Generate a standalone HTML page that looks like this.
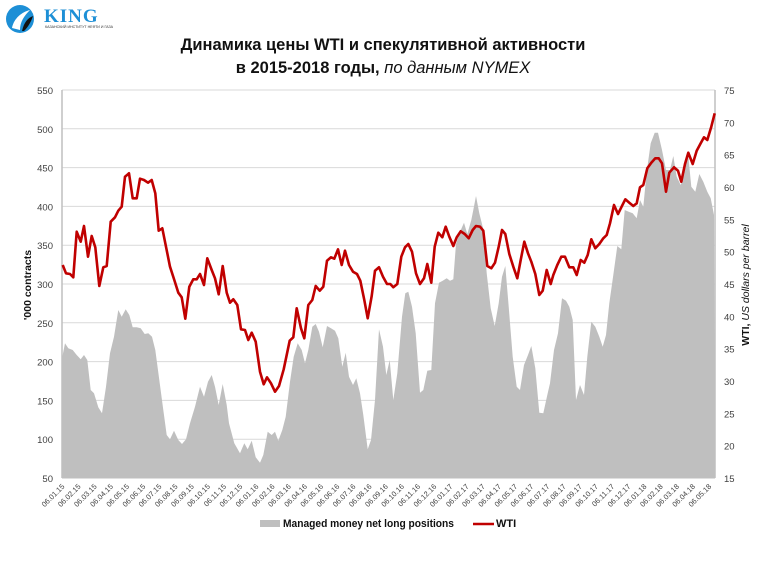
<!DOCTYPE html>
<html><head><meta charset="utf-8"><style>
html,body{margin:0;padding:0;background:#fff;}
svg{display:block;}
</style></head><body>
<svg width="766" height="575" viewBox="0 0 766 575" xmlns="http://www.w3.org/2000/svg" font-family="Liberation Sans, DejaVu Sans, sans-serif">
<!-- logo -->
<circle cx="20" cy="19" r="14" fill="#1d8fd6"/>
<path d="M12,28 C14,18 22,12 30,10 C24,16 20,22 20,30 Z" fill="#fff"/>
<path d="M22,31 C24,22 28,18 33,16 C31,22 28,27 24,31 Z" fill="#111"/>
<text x="44" y="22" font-size="19" font-weight="bold" fill="#1d8fd6" font-family="Liberation Serif, serif" letter-spacing="1">KING</text>
<text x="45" y="28" font-size="3.6" fill="#333">КАЗАНСКИЙ ИНСТИТУТ НЕФТИ И ГАЗА</text>
<!-- title -->
<text x="383" y="50" font-size="16.5" font-weight="bold" text-anchor="middle" fill="#111" font-family="Liberation Sans, Noto Sans CJK SC, sans-serif">Динамика цены WTI и спекулятивной активности</text>
<text x="383" y="73" font-size="16.5" text-anchor="middle" fill="#111" font-family="Liberation Sans, Noto Sans CJK SC, sans-serif"><tspan font-weight="bold">в 2015-2018 годы,</tspan> <tspan font-style="italic">по данным NYMEX</tspan></text>
<!-- gridlines -->
<g stroke="#d9d9d9" stroke-width="1">
<line x1="62" x2="715" y1="90" y2="90"/>
<line x1="62" x2="715" y1="128.8" y2="128.8"/>
<line x1="62" x2="715" y1="167.6" y2="167.6"/>
<line x1="62" x2="715" y1="206.4" y2="206.4"/>
<line x1="62" x2="715" y1="245.2" y2="245.2"/>
<line x1="62" x2="715" y1="284" y2="284"/>
<line x1="62" x2="715" y1="322.8" y2="322.8"/>
<line x1="62" x2="715" y1="361.6" y2="361.6"/>
<line x1="62" x2="715" y1="400.4" y2="400.4"/>
<line x1="62" x2="715" y1="439.2" y2="439.2"/>
</g>
<!-- area -->
<polygon fill="#bfbfbf" points="62,478 61.7,360 65,343.3 68.3,348.3 72.7,350 76.7,355 80.7,359.3 84,355 87.3,360 90.7,390 94,393.3 98.3,407.3 102,413.3 106,386.7 110,353.3 114,336.7 118.3,310 121.7,316.7 125.7,309.3 129.3,315 132.7,327.3 136.7,327.3 140.7,328.3 144.7,334 148.3,333.3 152,336.7 155.3,350 159.3,380 163.3,410 166.7,435 170,439.3 174,430.7 178.3,440 182,444 186,439.3 190,423.3 195,406.7 200,386.7 204,396.7 208,381.7 211.7,375 215,386.7 218.7,405 222.7,384 226.7,405 229,423.3 234.3,443.3 240,453.3 244.3,443.3 247.7,449.3 251.7,440.7 255.7,457.3 260,462.7 263.3,455 267.7,431.7 271.7,435 275,431.7 278.3,440.7 282.3,430 285.7,416.7 290,381.7 293.7,356.7 297.7,343.3 301.7,350 305,363.3 308.3,350 312.3,326.7 315.7,324 319,331.7 322.7,347.3 327,326 331,328.3 335,330.7 338.3,338.3 342.3,366.7 345.7,352.7 349,376.7 353,385 356.3,378.3 360,393.3 363.3,415 367.7,449.3 371,440 375,400 379,329.3 383,346.7 386.3,375 389.7,360 393.3,400 397.3,373.3 402,316.7 405.3,293.3 408.3,291.7 412,306.7 415.7,333.3 420,392.7 423.3,390 427.3,370.7 431.3,370 435,303.3 439,282.7 442.7,280.7 446.7,278.3 450,280.7 453.3,279.3 456,244 460,231.7 464,222.7 467.3,234 471.3,220 473.3,210 476,196 479.3,213.3 483.3,229.3 486.7,273.3 490.7,308.3 494.7,326 498.7,303.3 502,276.7 505.3,266 508.7,306.7 512.7,356.7 516.7,386.7 520,390 524,365 528,355 531.3,346 535.3,368.3 539.3,412.7 543.3,413.3 547.3,395 550,383.3 554,350 558,333.3 562,298.3 566,300.7 569.3,306.7 572.7,320 576,400 580,385 584,395 587.3,356.7 591.3,321.7 595.3,326.7 599.3,336.7 602.7,346.7 606,335 609.3,303.3 613.3,275 617.3,246 621.3,249.3 624.7,210 628.7,211.7 632.7,213.3 636.7,218.3 640,200 643.3,206.7 646.7,171.7 650.7,143.3 654.7,132.7 658,132.7 662,150 666,170 670,170 673.3,156 676.7,176.7 680.7,185 684,175 688,152.7 691.3,186.7 695.3,191.7 699.3,174 703.3,181.7 707.3,191.7 710.7,198.3 714,215 715,478"/>
<!-- axes -->
<line x1="62" x2="62" y1="90" y2="478" stroke="#bfbfbf" stroke-width="1.5"/>
<line x1="715" x2="715" y1="90" y2="478" stroke="#bfbfbf" stroke-width="1.5"/>
<line x1="62" x2="715" y1="478" y2="478" stroke="#bfbfbf" stroke-width="1"/>
<!-- WTI -->
<polyline fill="none" stroke="#c00000" stroke-width="2.6" stroke-linejoin="round" points="62.7,265 66,273.3 70,274 73.3,277.3 76.7,231.7 80.7,241.7 84,226 88,256.7 91.7,236 95.3,247.3 99.3,286 103.3,267.3 106.7,266 110.7,221.7 115,217.3 118.3,210.7 121.7,206.7 125,176.7 129,173.3 132.7,198.3 136.7,198.3 140,178.7 144,180 148,182.7 151.7,180 155.3,193.3 158.7,230.7 162.3,228.3 166,246.7 170,266.7 174.3,280 178.3,292.7 181.7,297.3 185.3,318.7 189.3,286.7 193.3,279.3 196.7,279.3 200,274 204,285 207.3,258.3 211.7,270 215,278.3 218.7,294.3 222.7,266 226.7,292.7 230,302.7 233.3,299.3 237.3,305 241,329.3 245,330 248.3,340 251.7,332.7 255.7,341.7 260,371.7 263.7,384.3 267,377.3 271,383.3 275,391.7 279,386 283.7,369.3 289.7,340.7 293.3,337.3 296.7,308.3 301,328.3 304.3,338.3 308.3,305 312.3,300 315.7,286 319.7,290.7 323.3,286.7 327,260.7 331,257.3 334.3,258.7 338,249.3 341.7,265 345,250.7 349,265 353,271.7 357,274 360.3,280.7 364.3,300 367.7,318.3 371.7,296 375,270.7 379,267.3 383,276.7 387,284 390.3,284 393.3,287.3 397.3,284 401.3,256.7 405,247.3 408.3,244 412,251.7 416,273.3 420,284 424,278.3 427.3,264 431.3,282.7 434.7,246.7 438.3,232.7 442.3,237.3 445.7,226.7 449.3,236.7 453.3,246 456.7,237.3 460.7,231.3 464.7,234 468.7,238.3 472.7,230 476,226 480,226.7 483.3,230.7 487.3,266 491.3,268.3 495,262.7 498.7,246.7 502,230 505.3,234 509.3,254 513.3,266.7 517.3,278.3 520.7,260 524.3,241.7 528,253.3 531.3,261.7 535.3,274 539.3,295 542.7,290.7 546.7,270 550.7,284 553.3,275 557.3,265 561.3,256.7 565,256.7 569.3,267.3 573.3,267.3 576.7,275 580.7,260 584.3,262.7 587.7,255 591.3,239.3 595.3,248.3 599.3,244 603.3,238.3 606.7,235 610,223.3 614,205 618,214 621.3,207.3 625.3,199.3 629.3,202.7 633.3,206 636.7,203.3 640,187.3 643.3,185 647.3,168.3 651.3,162.7 655.3,158.3 658.7,158.3 662,163.3 666,191.7 669.3,172.7 674,167.3 678,170.7 681.3,181.7 685,164 688.3,152.7 692.7,164 696.7,150.7 700.7,143.3 704,137.3 707.3,140 711.3,126.7 714.7,113.3"/>
<!-- left ticks -->
<g font-size="9.5" fill="#404040" text-anchor="end">
<text x="53" y="94">550</text>
<text x="53" y="132.8">500</text>
<text x="53" y="171.6">450</text>
<text x="53" y="210.4">400</text>
<text x="53" y="249.2">350</text>
<text x="53" y="288">300</text>
<text x="53" y="326.8">250</text>
<text x="53" y="365.6">200</text>
<text x="53" y="404.4">150</text>
<text x="53" y="443.2">100</text>
<text x="53" y="482">50</text>
</g>
<!-- right ticks -->
<g font-size="9.5" fill="#404040" text-anchor="start">
<text x="724" y="94">75</text>
<text x="724" y="126.3">70</text>
<text x="724" y="158.7">65</text>
<text x="724" y="191">60</text>
<text x="724" y="223.3">55</text>
<text x="724" y="255.7">50</text>
<text x="724" y="288">45</text>
<text x="724" y="320.3">40</text>
<text x="724" y="352.7">35</text>
<text x="724" y="385">30</text>
<text x="724" y="417.3">25</text>
<text x="724" y="449.7">20</text>
<text x="724" y="482">15</text>
</g>
<!-- axis titles -->
<text transform="translate(31,285) rotate(-90)" font-size="10.5" font-weight="bold" text-anchor="middle" fill="#111">'000 contracts</text>
<text transform="translate(749,285) rotate(-90)" font-size="10.5" text-anchor="middle" fill="#111"><tspan font-weight="bold">WTI,</tspan> <tspan font-style="italic">US dollars per barrel</tspan></text>
<!-- x labels -->
<g font-size="7.4" fill="#404040" text-anchor="end">
<text transform="translate(65.0,487) rotate(-45)">06.01.15</text>
<text transform="translate(81.2,487) rotate(-45)">06.02.15</text>
<text transform="translate(97.3,487) rotate(-45)">06.03.15</text>
<text transform="translate(113.5,487) rotate(-45)">06.04.15</text>
<text transform="translate(129.7,487) rotate(-45)">06.05.15</text>
<text transform="translate(145.9,487) rotate(-45)">06.06.15</text>
<text transform="translate(162.0,487) rotate(-45)">06.07.15</text>
<text transform="translate(178.2,487) rotate(-45)">06.08.15</text>
<text transform="translate(194.4,487) rotate(-45)">06.09.15</text>
<text transform="translate(210.5,487) rotate(-45)">06.10.15</text>
<text transform="translate(226.7,487) rotate(-45)">06.11.15</text>
<text transform="translate(242.9,487) rotate(-45)">06.12.15</text>
<text transform="translate(259.0,487) rotate(-45)">06.01.16</text>
<text transform="translate(275.2,487) rotate(-45)">06.02.16</text>
<text transform="translate(291.4,487) rotate(-45)">06.03.16</text>
<text transform="translate(307.6,487) rotate(-45)">06.04.16</text>
<text transform="translate(323.7,487) rotate(-45)">06.05.16</text>
<text transform="translate(339.9,487) rotate(-45)">06.06.16</text>
<text transform="translate(356.1,487) rotate(-45)">06.07.16</text>
<text transform="translate(372.2,487) rotate(-45)">06.08.16</text>
<text transform="translate(388.4,487) rotate(-45)">06.09.16</text>
<text transform="translate(404.6,487) rotate(-45)">06.10.16</text>
<text transform="translate(420.7,487) rotate(-45)">06.11.16</text>
<text transform="translate(436.9,487) rotate(-45)">06.12.16</text>
<text transform="translate(453.1,487) rotate(-45)">06.01.17</text>
<text transform="translate(469.3,487) rotate(-45)">06.02.17</text>
<text transform="translate(485.4,487) rotate(-45)">06.03.17</text>
<text transform="translate(501.6,487) rotate(-45)">06.04.17</text>
<text transform="translate(517.8,487) rotate(-45)">06.05.17</text>
<text transform="translate(533.9,487) rotate(-45)">06.06.17</text>
<text transform="translate(550.1,487) rotate(-45)">06.07.17</text>
<text transform="translate(566.3,487) rotate(-45)">06.08.17</text>
<text transform="translate(582.4,487) rotate(-45)">06.09.17</text>
<text transform="translate(598.6,487) rotate(-45)">06.10.17</text>
<text transform="translate(614.8,487) rotate(-45)">06.11.17</text>
<text transform="translate(631.0,487) rotate(-45)">06.12.17</text>
<text transform="translate(647.1,487) rotate(-45)">06.01.18</text>
<text transform="translate(663.3,487) rotate(-45)">06.02.18</text>
<text transform="translate(679.5,487) rotate(-45)">06.03.18</text>
<text transform="translate(695.6,487) rotate(-45)">06.04.18</text>
<text transform="translate(711.8,487) rotate(-45)">06.05.18</text>
</g>
<!-- legend -->
<rect x="260" y="520" width="20" height="7" fill="#bfbfbf"/>
<text x="283" y="527" font-size="11" font-weight="bold" fill="#111" textLength="171" lengthAdjust="spacingAndGlyphs">Managed money net long positions</text>
<line x1="473" x2="494" y1="524" y2="524" stroke="#c00000" stroke-width="2.6"/>
<text x="496" y="527" font-size="11" font-weight="bold" fill="#111">WTI</text>
</svg>
</body></html>
